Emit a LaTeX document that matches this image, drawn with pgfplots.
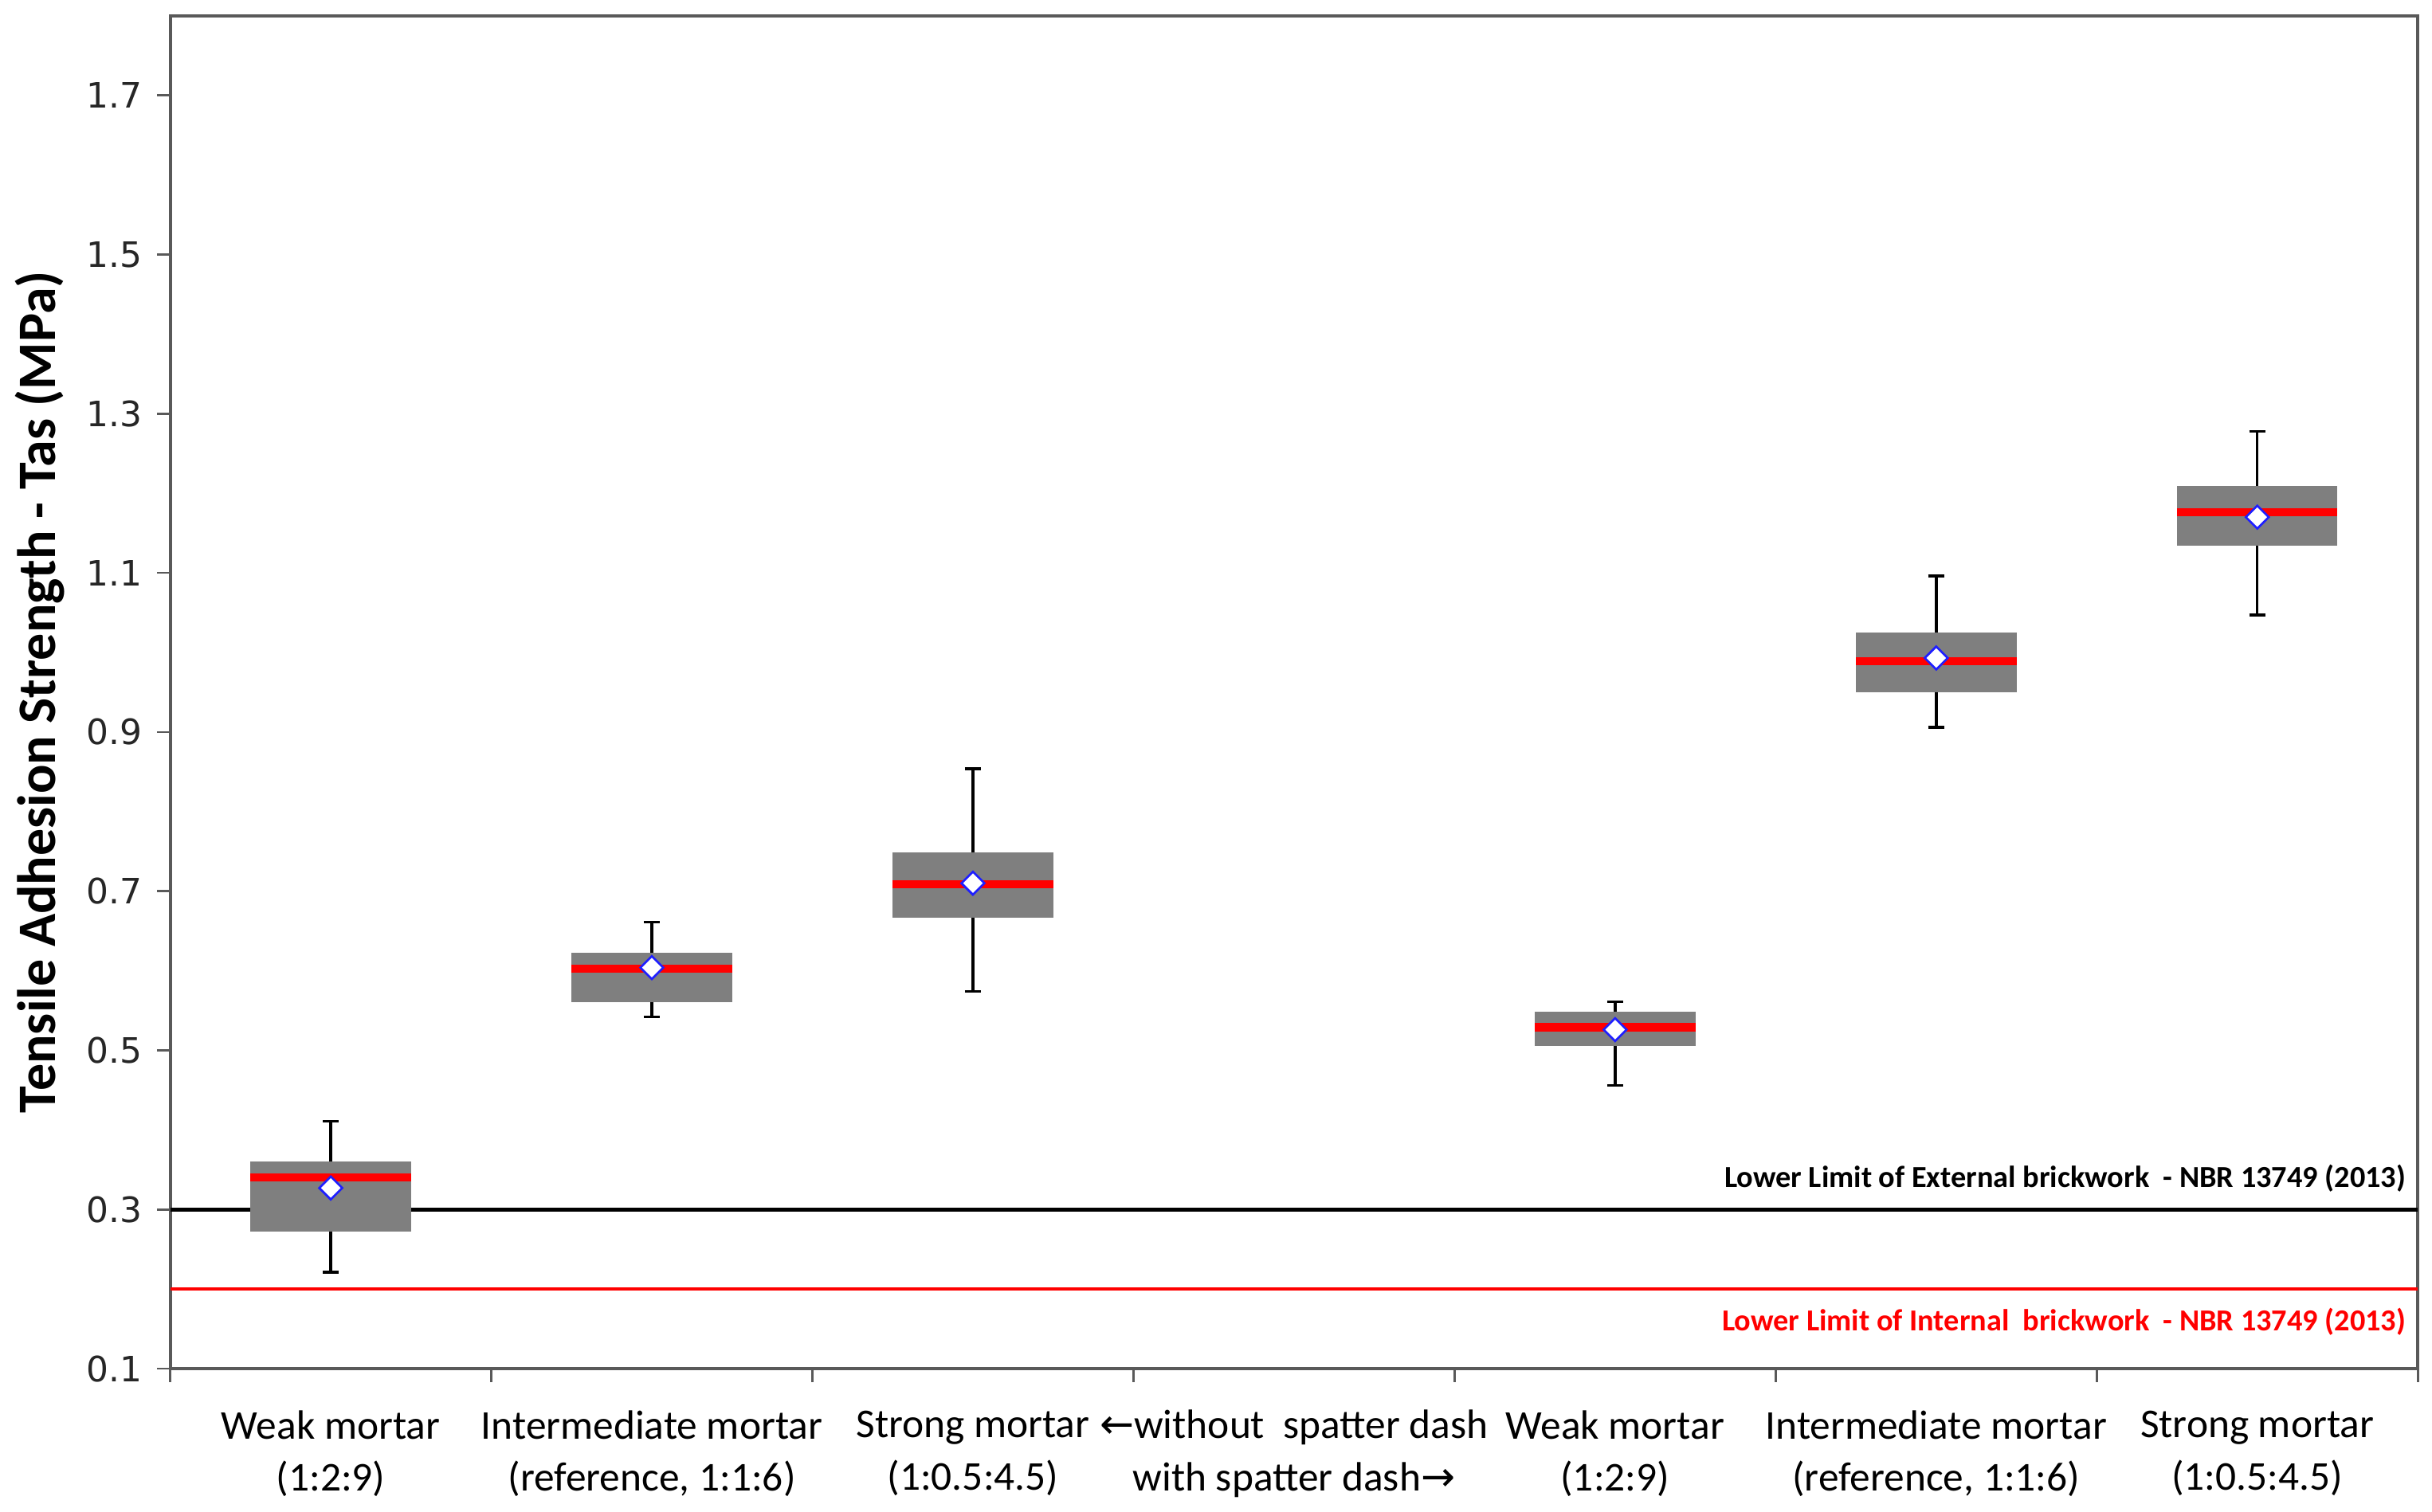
\documentclass[border=0pt]{standalone}
\usepackage{pgfplots}
\pgfplotsset{compat=1.18}
\usepgfplotslibrary{statistics}
\usepackage{fontspec}
\setmainfont{Carlito}
\newfontfamily\dejavu{DejaVu Sans}
\definecolor{boxgray}{RGB}{127,127,127}
\definecolor{diamblue}{RGB}{30,30,255}
\begin{document}
\begin{tikzpicture}
\begin{axis}[
  scale only axis,
  width=526.8pt, height=317.2pt,
  xmin=0.5, xmax=7.5, ymin=0.1, ymax=1.8,
  axis line style={black!65, line width=0.7pt},
  tick align=outside,
  xtick pos=lower, ytick pos=left,
  tick style={black!65, line width=0.5pt},
  major tick length=3.1pt,
  ytick={0.1,0.3,0.5,0.7,0.9,1.1,1.3,1.5,1.7},
  /pgf/number format/assume math mode=true,
  yticklabel={\pgfmathprintnumber[fixed,precision=1,fixed zerofill]{\tick}},
  yticklabel style={font=\dejavu\fontsize{8.2}{9.8}\selectfont, text=black!85},
  xtick={0.5,1.5,2.5,3.5,4.5,5.5,6.5,7.5},
  xticklabels={},
  extra x ticks={1,2,3,4,5,6,7},
  extra x tick style={major tick length=0pt},
  extra x tick labels={{Weak mortar\\(1:2:9)},{Intermediate mortar\\(reference, 1:1:6)},{Strong mortar\\(1:0.5:4.5)},{{\dejavu ←}without\ \ spatter dash\\with spatter dash{\dejavu →}},{Weak mortar\\(1:2:9)},{Intermediate mortar\\(reference, 1:1:6)},{Strong mortar\\(1:0.5:4.5)}},
  xticklabel style={align=center, font=\fontsize{9.6}{12.3}\selectfont, anchor=center, yshift=-19.9pt},
  ylabel={Tensile Adhesion Strength - Tas (MPa)},
  ylabel style={at={(axis description cs:-0.058,0.5)}, anchor=center, font=\bfseries\fontsize{12.7}{15}\selectfont},
  boxplot/draw direction=y,
  boxplot/every box/.style={fill=boxgray, draw=none},
  boxplot/every whisker/.style={black, line width=0.65pt},
  boxplot/every median/.style={red, line width=1.9pt},
  clip=false,
]
\addplot[black, line width=0.9pt] coordinates {(0.5,0.3) (7.5,0.3)};
\addplot[red, line width=0.75pt] coordinates {(0.5,0.2) (7.5,0.2)};
\addplot[black, mark=none, boxplot prepared={draw position=1, lower whisker=0.221, lower quartile=0.272, median=0.340, upper quartile=0.360, upper whisker=0.411, box extend=0.5, whisker extend=0.05}] coordinates {};
\addplot[black, mark=none, boxplot prepared={draw position=2, lower whisker=0.542, lower quartile=0.561, median=0.603, upper quartile=0.623, upper whisker=0.661, box extend=0.5, whisker extend=0.05}] coordinates {};
\addplot[black, mark=none, boxplot prepared={draw position=3, lower whisker=0.574, lower quartile=0.667, median=0.709, upper quartile=0.749, upper whisker=0.854, box extend=0.5, whisker extend=0.05}] coordinates {};
\addplot[black, mark=none, boxplot prepared={draw position=5, lower whisker=0.456, lower quartile=0.506, median=0.529, upper quartile=0.549, upper whisker=0.561, box extend=0.5, whisker extend=0.05}] coordinates {};
\addplot[black, mark=none, boxplot prepared={draw position=6, lower whisker=0.906, lower quartile=0.950, median=0.989, upper quartile=1.025, upper whisker=1.096, box extend=0.5, whisker extend=0.05}] coordinates {};
\addplot[black, mark=none, boxplot prepared={draw position=7, lower whisker=1.047, lower quartile=1.134, median=1.176, upper quartile=1.209, upper whisker=1.278, box extend=0.5, whisker extend=0.05}] coordinates {};
\addplot[only marks, mark=square*, mark size=1.9pt, mark options={fill=white, draw=diamblue, line width=0.5pt, rotate=45}] coordinates {(1,0.327) (2,0.604) (3,0.710) (5,0.526) (6,0.993) (7,1.170)};
\node[anchor=east, font=\bfseries\fontsize{7.15}{8.5}\selectfont, text=black, inner sep=0pt] at ([xshift=-2.6pt,yshift=7.3pt]axis cs:7.5,0.3) {Lower Limit of External brickwork\ \ - NBR 13749 (2013)};
\node[anchor=east, font=\bfseries\fontsize{7.15}{8.5}\selectfont, text=red, inner sep=0pt] at ([xshift=-2.6pt,yshift=-7.6pt]axis cs:7.5,0.2) {Lower Limit of Internal\ \ brickwork\ \ - NBR 13749 (2013)};
\end{axis}
\path ([xshift=-39.9pt,yshift=-33.4pt]current axis.south west) rectangle ([xshift=2.8pt,yshift=3.7pt]current axis.north east);
\end{tikzpicture}
\end{document}
